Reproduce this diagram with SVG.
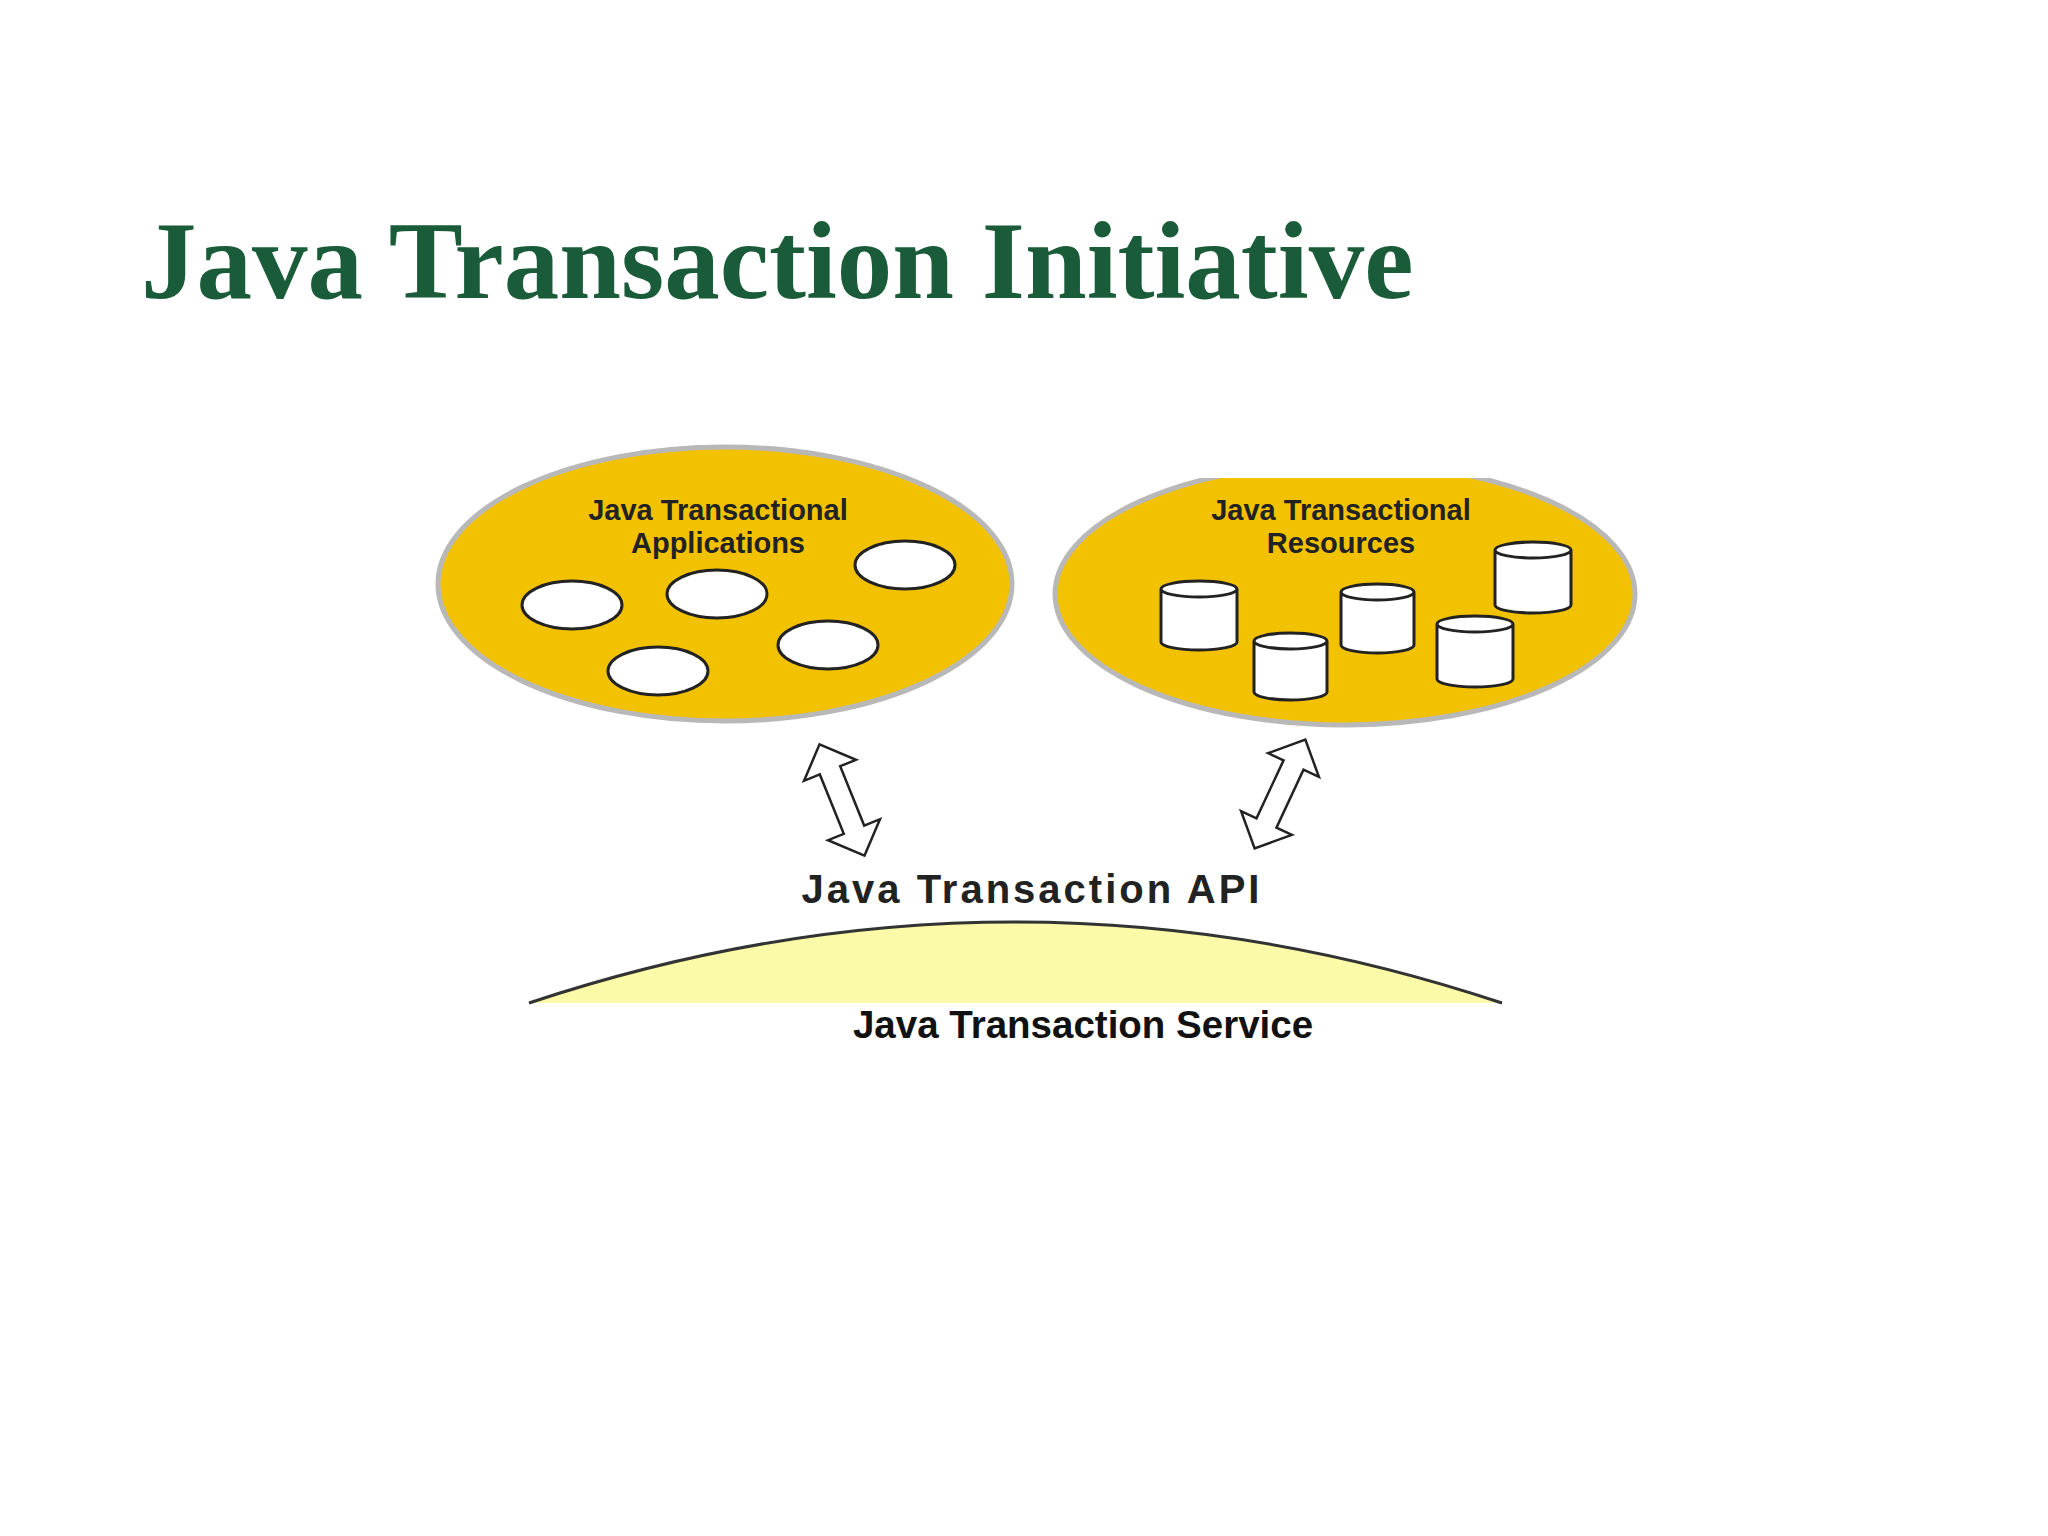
<svg xmlns="http://www.w3.org/2000/svg" width="2048" height="1536" viewBox="0 0 2048 1536">
<defs>
<style>
.big{fill:#f2c200;stroke:#b8b8b8;stroke-width:5}
.app{fill:#fff;stroke:#222;stroke-width:3}
.cyl{fill:#fff;stroke:#222;stroke-width:3}
.lbl{font-family:"Liberation Sans",Arial,sans-serif;font-weight:bold;font-size:29px;fill:#222;text-anchor:middle}
.arr{fill:#fff;stroke:#222;stroke-width:2.5;stroke-linejoin:miter}
</style>
<clipPath id="rc"><rect x="1000" y="478" width="700" height="300"/></clipPath>
</defs>
<rect width="2048" height="1536" fill="#fff"/>
<text x="141" y="298" font-family="Liberation Serif,'Times New Roman',serif" font-weight="bold" font-size="111" fill="#1a5c3a">Java Transaction Initiative</text>

<g id="applications">
<ellipse cx="725" cy="584" rx="287" ry="137" class="big"/>
<text x="718" y="520" class="lbl">Java Transactional</text>
<text x="718" y="553" class="lbl">Applications</text>
<ellipse cx="572" cy="605" rx="50" ry="24" class="app"/>
<ellipse cx="717" cy="594" rx="50" ry="24" class="app"/>
<ellipse cx="905" cy="565" rx="50" ry="24" class="app"/>
<ellipse cx="828" cy="645" rx="50" ry="24" class="app"/>
<ellipse cx="658" cy="671" rx="50" ry="24" class="app"/>
</g>

<g id="resources">
<ellipse cx="1345" cy="594" rx="290" ry="131" class="big" clip-path="url(#rc)"/>
<text x="1341" y="520" class="lbl">Java Transactional</text>
<text x="1341" y="553" class="lbl">Resources</text>
<g class="cyl">
<path d="M1161,589 v53 a38,8 0 0 0 76,0 v-53 a38,8 0 0 0 -76,0 a38,8 0 0 0 76,0"/>
<path d="M1254,641 v51 a36.5,8 0 0 0 73,0 v-51 a36.5,8 0 0 0 -73,0 a36.5,8 0 0 0 73,0"/>
<path d="M1341,592 v53 a36.5,8 0 0 0 73,0 v-53 a36.5,8 0 0 0 -73,0 a36.5,8 0 0 0 73,0"/>
<path d="M1437,624 v55 a38,8 0 0 0 76,0 v-55 a38,8 0 0 0 -76,0 a38,8 0 0 0 76,0"/>
<path d="M1495,550 v55 a38,8 0 0 0 76,0 v-55 a38,8 0 0 0 -76,0 a38,8 0 0 0 76,0"/>
</g>
</g>

<g id="connectors">
<polygon class="arr" transform="translate(842,800) rotate(-22)" points="0,-60 28,-32 11,-32 11,32 28,32 0,60 -28,32 -11,32 -11,-32 -28,-32"/>
<polygon class="arr" transform="translate(1280,794) rotate(25)" points="0,-60 28,-32 11,-32 11,32 28,32 0,60 -28,32 -11,32 -11,-32 -28,-32"/>
</g>

<g id="api">
<text x="1032" y="903" font-family="Liberation Sans,Arial,sans-serif" font-weight="bold" font-size="40" fill="#222" text-anchor="middle" letter-spacing="3">Java Transaction API</text>
</g>

<g id="service">
<path d="M529,1003 Q1015,841 1502,1003 Z" fill="#fafaa8"/>
<path d="M529,1003 Q1015,841 1502,1003" fill="none" stroke="#333" stroke-width="3"/>
<text x="1083" y="1038" font-family="Liberation Sans,Arial,sans-serif" font-weight="bold" font-size="38.5" fill="#111" text-anchor="middle">Java Transaction Service</text>
</g>
</svg>
